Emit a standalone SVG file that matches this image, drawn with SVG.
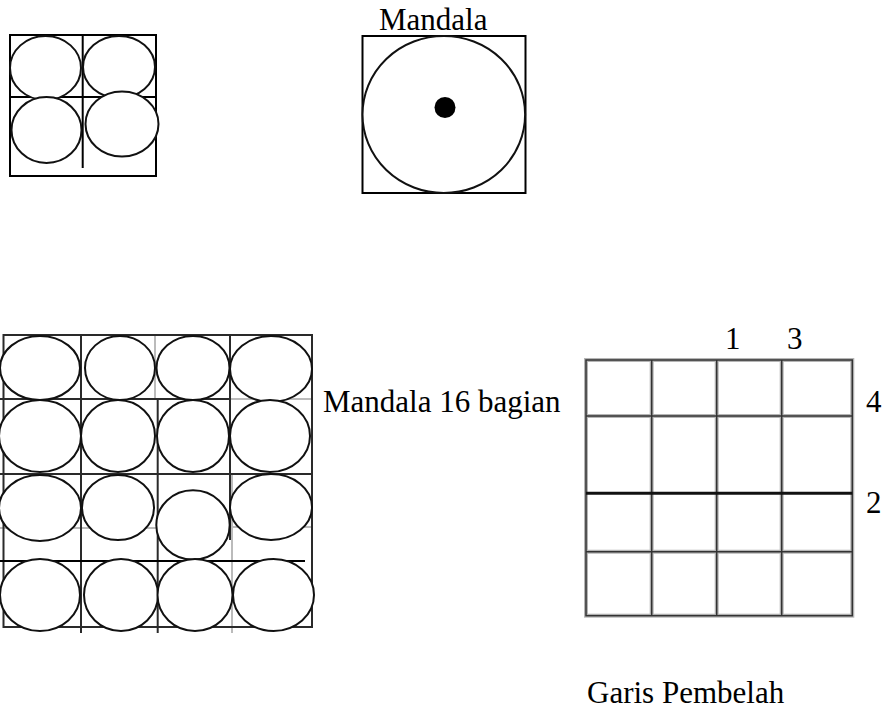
<svg xmlns="http://www.w3.org/2000/svg" width="884" height="709" viewBox="0 0 884 709">
<style>
  .ln { stroke: #000; stroke-width: 2; fill: none; }
  .lg { stroke: #2a2a2a; stroke-width: 2; fill: none; }
  .fa { stroke: #bbb; stroke-width: 2; fill: none; }
  .el { stroke: #111; stroke-width: 2; fill: #fff; }
  .halo { stroke: #b5b5b5; stroke-width: 4; fill: none; }
  .core { stroke: #333; stroke-width: 1.5; fill: none; }
  .t { font-family: "Liberation Serif", "Times New Roman", serif; font-size: 31px; fill: #000; }
</style>
<rect width="884" height="709" fill="#fff"/>

<g id="four-circles">
  <rect x="10" y="35" width="146" height="141" class="ln"/>
  <line x1="82.7" y1="35" x2="82.7" y2="168" class="ln"/>
  <line x1="10" y1="97" x2="156" y2="97" class="ln"/>
  <ellipse cx="45.5" cy="68" rx="35.5" ry="32" class="el"/>
  <ellipse cx="119" cy="67" rx="36" ry="31" class="el"/>
  <ellipse cx="46.5" cy="130" rx="35" ry="33" class="el"/>
  <ellipse cx="122" cy="124" rx="36.5" ry="32.5" class="el"/>
</g>

<g id="mandala">
  <text x="379" y="29.5" class="t">Mandala</text>
  <rect x="362.5" y="36" width="163" height="157" class="ln"/>
  <ellipse cx="443.8" cy="114.5" rx="81.3" ry="78.5" class="el"/>
  <circle cx="445" cy="107.5" r="10.5" fill="#000"/>
</g>

<g id="mandala-16">
  <line x1="155" y1="335" x2="155" y2="399" class="fa"/>
  <line x1="230" y1="399" x2="312" y2="399" class="fa"/>
  <line x1="0" y1="528" x2="157" y2="528" class="fa"/>
  <line x1="232" y1="527" x2="312" y2="527" class="fa"/>
  <line x1="232" y1="474" x2="232" y2="633" class="fa"/>
  <rect x="3.5" y="335" width="308.5" height="292" class="lg"/>
  <line x1="81" y1="335" x2="81" y2="633" class="lg"/>
  <line x1="157.7" y1="399" x2="157.7" y2="633" class="lg"/>
  <line x1="230" y1="335" x2="230" y2="540" class="lg"/>
  <line x1="0" y1="399" x2="230" y2="399" class="lg"/>
  <line x1="0" y1="474" x2="312" y2="474" class="lg"/>
  <line x1="0" y1="561" x2="305" y2="561" class="ln"/>

  <ellipse cx="40" cy="368" rx="40" ry="32" class="el"/>
  <ellipse cx="120" cy="368" rx="35" ry="32" class="el"/>
  <ellipse cx="193" cy="368" rx="36.5" ry="32" class="el"/>
  <ellipse cx="271" cy="369" rx="41" ry="33" class="el"/>

  <ellipse cx="40" cy="436" rx="41" ry="36" class="el"/>
  <ellipse cx="118" cy="436" rx="37" ry="36" class="el"/>
  <ellipse cx="193" cy="436" rx="36" ry="36" class="el"/>
  <ellipse cx="270" cy="436" rx="40" ry="36" class="el"/>

  <ellipse cx="40" cy="508" rx="41" ry="33" class="el"/>
  <ellipse cx="118" cy="507.5" rx="36" ry="32.5" class="el"/>
  <ellipse cx="193" cy="525" rx="36.7" ry="34.7" class="el"/>
  <ellipse cx="271" cy="507" rx="41" ry="33" class="el"/>

  <ellipse cx="40" cy="595" rx="40" ry="36" class="el"/>
  <ellipse cx="121" cy="595" rx="37" ry="36" class="el"/>
  <ellipse cx="195" cy="595" rx="37.5" ry="36" class="el"/>
  <ellipse cx="273.5" cy="595" rx="40.5" ry="36" class="el"/>
</g>

<g id="label-mandala-16">
  <text x="323" y="411.7" class="t">Mandala 16 bagian</text>
</g>

<g id="garis-pembelah">
  <g class="halo">
    <rect x="586" y="360" width="266.3" height="255.7"/>
    <line x1="651.7" y1="360" x2="651.7" y2="615.7"/>
    <line x1="716.7" y1="360" x2="716.7" y2="615.7"/>
    <line x1="781.7" y1="360" x2="781.7" y2="615.7"/>
    <line x1="586" y1="416" x2="852.3" y2="416"/>
    <line x1="586" y1="551.7" x2="852.3" y2="551.7"/>
  </g>
  <g class="core">
    <rect x="586" y="360" width="266.3" height="255.7"/>
    <line x1="651.7" y1="360" x2="651.7" y2="615.7"/>
    <line x1="716.7" y1="360" x2="716.7" y2="615.7"/>
    <line x1="781.7" y1="360" x2="781.7" y2="615.7"/>
    <line x1="586" y1="416" x2="852.3" y2="416"/>
    <line x1="586" y1="551.7" x2="852.3" y2="551.7"/>
  </g>
  <line x1="586" y1="493.3" x2="852.3" y2="493.3" stroke="#111" stroke-width="3"/>
  <text x="725" y="349.3" class="t">1</text>
  <text x="787" y="349.3" class="t">3</text>
  <text x="866" y="411.7" class="t">4</text>
  <text x="866" y="513" class="t">2</text>
  <text x="587" y="703" class="t">Garis Pembelah</text>
</g>
</svg>
